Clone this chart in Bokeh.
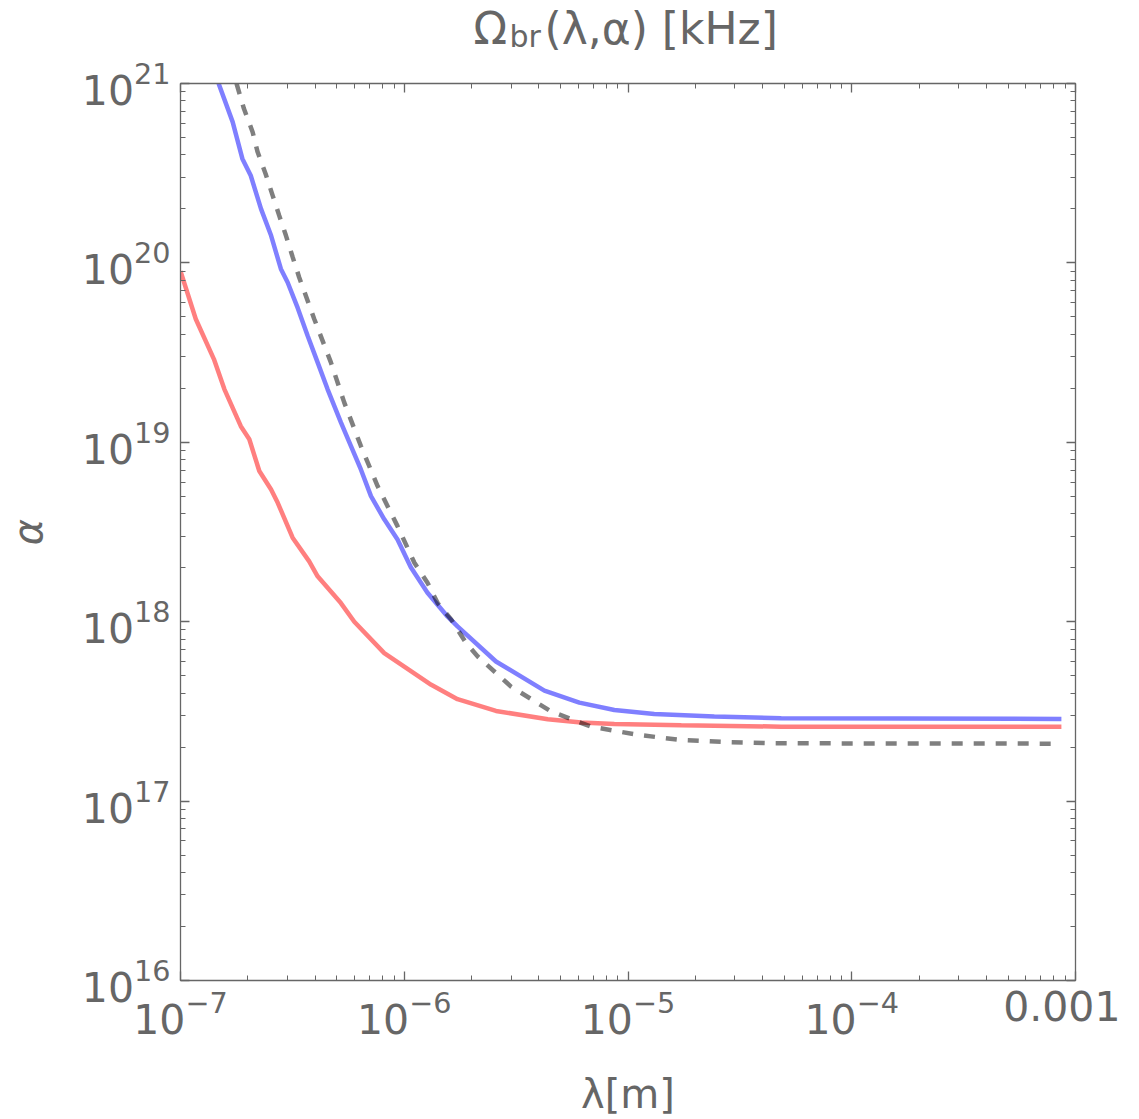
from bokeh.plotting import figure
from bokeh.layouts import column
from bokeh.models import LogAxis, Label, LogTicker, CustomJSTickFormatter
from bokeh.embed import file_html
from bokeh.resources import INLINE

# ---- data (lambda [m], alpha) ----
red_lam = [1.0e-7, 1.17e-7, 1.41e-7, 1.57e-7, 1.86e-7, 2.03e-7, 2.25e-7, 2.54e-7,
           2.72e-7, 3.17e-7, 3.76e-7, 4.10e-7, 5.21e-7, 5.98e-7, 8.14e-7, 1.0e-6,
           1.32e-6, 1.73e-6, 2.57e-6, 4.38e-6, 6.17e-6, 8.69e-6, 1.73e-5, 4.84e-5, 8.65e-4]
red_alpha = [9.0e19, 4.87e19, 2.91e19, 1.98e19, 1.23e19, 1.04e19, 6.92e18, 5.46e18,
             4.60e18, 2.94e18, 2.17e18, 1.79e18, 1.27e18, 1.00e18, 6.68e17, 5.62e17,
             4.45e17, 3.70e17, 3.18e17, 2.86e17, 2.74e17, 2.69e17, 2.65e17, 2.60e17, 2.60e17]

blue_lam = [1.48e-7, 1.71e-7, 1.89e-7, 2.06e-7, 2.29e-7, 2.54e-7, 2.81e-7, 3.01e-7,
            3.34e-7, 3.70e-7, 4.10e-7, 4.54e-7, 5.21e-7, 5.78e-7, 6.40e-7, 7.10e-7,
            8.14e-7, 9.33e-7, 1.07e-6, 1.27e-6, 1.56e-6, 1.73e-6, 2.57e-6, 4.23e-6,
            6.06e-6, 8.69e-6, 1.31e-5, 2.43e-5, 4.84e-5, 8.65e-4]
blue_alpha = [1.0e21, 6.11e20, 3.81e20, 3.07e20, 2.00e20, 1.42e20, 9.25e19, 7.80e19,
              5.61e19, 3.93e19, 2.79e19, 1.98e19, 1.29e19, 9.53e18, 7.06e18, 5.01e18,
              3.72e18, 2.87e18, 2.01e18, 1.45e18, 1.07e18, 9.42e17, 6.00e17, 4.13e17,
              3.54e17, 3.22e17, 3.06e17, 2.96e17, 2.90e17, 2.87e17]

gray_lam = [1.78e-7, 1.92e-7, 2.10e-7, 2.21e-7, 2.40e-7, 2.58e-7, 2.76e-7, 2.96e-7,
            3.17e-7, 3.39e-7, 3.70e-7, 3.96e-7, 4.70e-7, 5.39e-7, 6.40e-7, 7.60e-7,
            9.33e-7, 1.11e-6, 1.27e-6, 1.41e-6, 1.62e-6, 1.89e-6, 2.13e-6, 3.00e-6,
            4.53e-6, 6.84e-6, 1.11e-5, 1.73e-5, 2.89e-5, 4.52e-5, 8.65e-4]
gray_alpha = [1.0e21, 7.25e20, 5.37e20, 4.16e20, 3.14e20, 2.38e20, 1.84e20, 1.42e20,
              1.08e20, 8.32e19, 6.16e19, 4.87e19, 2.79e19, 1.67e19, 9.53e18, 5.70e18,
              3.41e18, 2.13e18, 1.65e18, 1.27e18, 1.03e18, 7.60e17, 6.40e17, 4.35e17,
              3.16e17, 2.60e17, 2.34e17, 2.19e17, 2.13e17, 2.10e17, 2.09e17]

x_range = (1e-7, 1e-3)
y_range = (1e16, 1e21)

TXT = "#666666"
FONT = "DejaVu Sans"
W = 1120
TITLE_H = 55

# ---- title strip (frame aligned with the main plot frame: x in page px) ----
t = figure(width=W, height=TITLE_H, x_range=(180, 1075), y_range=(0, TITLE_H),
           output_backend="svg", toolbar_location=None, min_border=0,
           min_border_top=0, min_border_bottom=0,
           x_axis_location=None, y_axis_location=None)
t.grid.visible = False
t.outline_line_color = None
title_parts = [("Ω", 473, 27, "44px"), ("br", 509, 19, "30px"), ("(λ,α) [kHz]", 544, 27, "44px")]
for txt, sx, sy, fs in title_parts:
    t.add_layout(Label(x=sx, y=sy, text=txt, text_font=FONT, text_font_size=fs,
                       text_color=TXT, text_baseline="alphabetic", text_align="left"))

# ---- main plot ----
p = figure(width=W, height=1064, x_axis_type="log", y_axis_type="log",
           x_range=x_range, y_range=y_range, output_backend="svg",
           toolbar_location=None, min_border_left=180, min_border_right=45,
           min_border_top=28, min_border_bottom=139)
p.grid.visible = False
p.outline_line_color = None

p.line(red_lam, red_alpha, line_color="red", line_alpha=0.5, line_width=4.5)
p.line(blue_lam, blue_alpha, line_color="blue", line_alpha=0.5, line_width=4.5)
p.line(gray_lam, gray_alpha, line_color="black", line_alpha=0.5, line_width=4.5,
       line_dash="11 11")

bottom_ax = p.xaxis[0]
left_ax = p.yaxis[0]

top_ax = LogAxis(formatter=CustomJSTickFormatter(code="return ''"))
right_ax = LogAxis(formatter=CustomJSTickFormatter(code="return ''"))
p.add_layout(top_ax, "above")
p.add_layout(right_ax, "right")

for ax in [bottom_ax, left_ax, top_ax, right_ax]:
    ax.ticker = LogTicker(num_minor_ticks=10)
    ax.axis_line_color = TXT
    ax.axis_line_width = 1.3
    ax.major_tick_line_color = TXT
    ax.minor_tick_line_color = TXT
    ax.major_tick_line_width = 1.3
    ax.minor_tick_line_width = 1.0
    ax.major_tick_in = 9
    ax.major_tick_out = 0
    ax.minor_tick_in = 5
    ax.minor_tick_out = 0
    ax.major_label_text_font = FONT
    ax.major_label_text_color = TXT

for ax in [bottom_ax, left_ax]:
    ax.major_label_text_font_size = "41px"
    ax.major_label_standoff = 10
for ax in [top_ax, right_ax]:
    ax.major_label_text_font_size = "0px"
    ax.major_label_standoff = 0

bottom_ax.major_label_overrides = {1e-3: "0.001", "0.001": "0.001"}

bottom_ax.axis_label = "λ[m]"
left_ax.axis_label = "α"
for ax in [bottom_ax, left_ax]:
    ax.axis_label_text_font = FONT
    ax.axis_label_text_font_size = "40px"
    ax.axis_label_text_color = TXT
bottom_ax.axis_label_standoff = 34
left_ax.axis_label_standoff = 28
bottom_ax.axis_label_text_font_style = "normal"
left_ax.axis_label_text_font_style = "italic"

open("out.html", "w").write(file_html(column(t, p), INLINE))
